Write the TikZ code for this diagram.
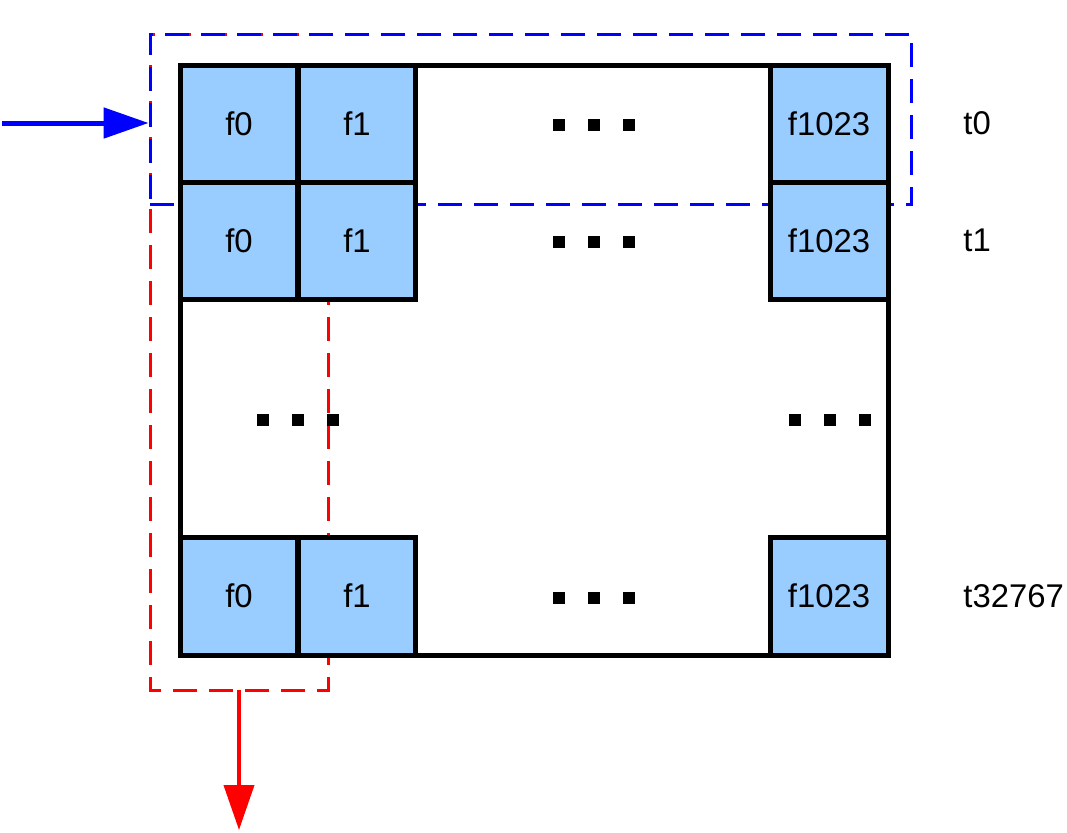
\documentclass[tikz,border=0pt]{standalone}
\usepackage{fontspec}
\setmainfont{Liberation Sans}
\usetikzlibrary{arrows.meta}

\definecolor{cellblue}{RGB}{153,204,255}
\tikzset{
	cell/.style={draw=black, line width=0.1cm, fill=cellblue, minimum size=2.36cm,
		inner sep=0pt, font=\fontsize{18.7}{21}\selectfont},
	rowlabel/.style={anchor=west, inner sep=0pt, font=\fontsize{18.7}{21}\selectfont},
	rowbox/.style={draw=blue, line width=0.06cm, dash pattern=on 0.48cm off 0.24cm,
		minimum width=15.24cm, minimum height=3.42cm, inner sep=0pt},
	colline/.style={draw=red, line width=0.06cm, dash pattern=on 0.48cm off 0.24cm},
	inarrow/.style={draw=blue, line width=0.1cm, -{Triangle[length=0.9cm,width=0.6cm]}},
	outarrow/.style={draw=red, line width=0.08cm, -{Triangle[length=0.9cm,width=0.6cm]}}
}

\begin{document}
\begin{tikzpicture}[x=0.02cm,y=-0.02cm]
	\useasboundingbox (0,0) rectangle (1067,832);
%
	% column being read out
	\coordinate (colne) at (328,65);
	\coordinate (colse) at (328,690);
	\coordinate (colsw) at (150,690);
	\coordinate (colnw) at (150,34);
	\coordinate (coltop) at (328,34);
	\coordinate (colout) at (239,690);
	\draw[colline] (colne) -- (colse) -- (colsw) -- (colnw) -- (coltop);
	% row being written
	\node[rowbox] (row) at (531,119.5) {};
%
	\draw[line width=0.1cm] (180,65) rectangle (888,655);
%
	\node[cell] (a0) at (239,124) {f0};
	\node[cell] (a1) at (357,124) {f1};
	\node[cell] (an) at (829,124) {f1023};
	\node[cell] (b0) at (239,241) {f0};
	\node[cell] (b1) at (357,241) {f1};
	\node[cell] (bn) at (829,241) {f1023};
	\node[cell] (c0) at (239,596) {f0};
	\node[cell] (c1) at (357,596) {f1};
	\node[cell] (cn) at (829,596) {f1023};
%
	\foreach \x/\y in {594/125, 594/242, 594/598, 298/420, 830/420}
		\foreach \d in {-35,0,35}
			\fill (\x+\d-6,\y-6) rectangle ++(12,12);
%
	\node[rowlabel] (t0) at (963,123) {t0};
	\node[rowlabel] (t1) at (963,240) {t1};
	\node[rowlabel] (tn) at (963,596) {t32767};
%
	\coordinate (src) at (2,123);
	\coordinate (sink) at (239,830);
	\draw[inarrow] (src) -- (src -| row.west);
	\draw[outarrow] (colout) -- (sink);
\end{tikzpicture}
\end{document}
